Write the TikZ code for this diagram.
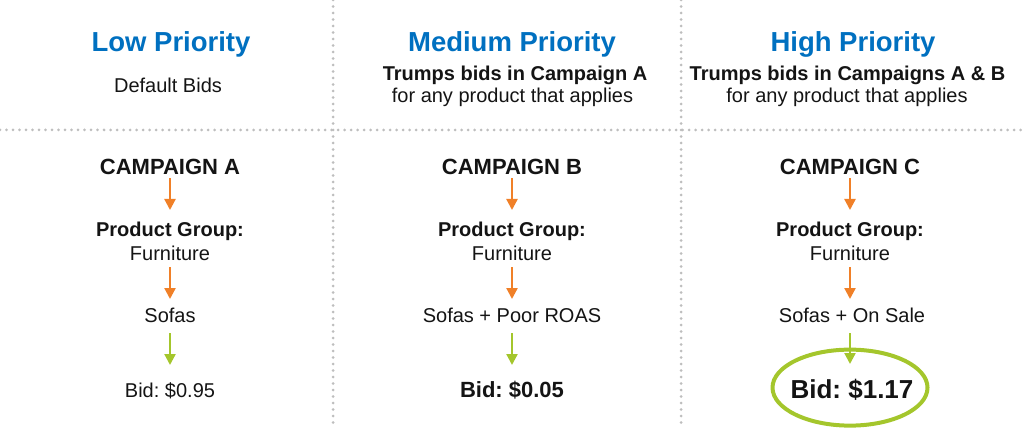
\documentclass[tikz,border=0pt]{standalone}
\usepackage{fontspec}
\setmainfont{Liberation Sans}
\usetikzlibrary{arrows.meta,shapes.geometric}
\definecolor{hblue}{RGB}{0,112,192}
\definecolor{txt}{RGB}{20,20,20}
\definecolor{oarrc}{RGB}{240,128,40}
\definecolor{garrc}{RGB}{164,198,44}
\definecolor{dotgray}{RGB}{190,190,190}
\tikzset{
  dotline/.style={draw=dotgray, line width=3pt, line cap=round, dash pattern=on 0pt off 6.5pt},
  tx/.style={inner sep=0pt, anchor=base, text=txt},
  headt/.style={tx, text=hblue, font=\fontsize{27.5}{33}\selectfont\bfseries},
  subb/.style={tx, font=\fontsize{20}{24}\selectfont\bfseries},
  subr/.style={tx, font=\fontsize{20}{24}\selectfont},
  camp/.style={tx, font=\fontsize{22}{26}\selectfont\bfseries},
  bigbid/.style={tx, font=\fontsize{26}{30}\selectfont\bfseries},
  oarr/.style={draw=oarrc, line width=2.3pt, -{Triangle[width=11pt,length=11pt]}},
  garr/.style={draw=garrc, line width=2.3pt, -{Triangle[width=11pt,length=11pt]}},
  ring/.style={ellipse, draw=garrc, line width=4pt, minimum width=155pt, minimum height=76pt, inner sep=0pt}
}
\begin{document}
\frenchspacing
\begin{tikzpicture}[x=1pt,y=-1pt]
\useasboundingbox (0,0) rectangle (1024,430);
% dividers
\draw[dotline] (333,0) -- (333,423);
\draw[dotline] (681,0) -- (681,423);
\draw[dotline] (0,130) -- (1024,130);
% headers
\node[headt] (lowp) at (171,52) {Low Priority};
\node[subr] (lowd) at (168,93) {Default Bids};
\node[headt] (medp) at (512,52) {Medium Priority};
\node[subb] (medt) at (515,80.7) {Trumps bids in Campaign A};
\node[subr] (medf) at (512.5,103) {for any product that applies};
\node[headt] (higp) at (853,52) {High Priority};
\node[subb] (higt) at (847.5,80.7) {Trumps bids in Campaigns A \& B};
\node[subr] (higf) at (847,103) {for any product that applies};
% column 1
\node[camp] (ca) at (170,174.3) {CAMPAIGN A};
\node[subb] (pga) at (170,236.7) {Product Group:};
\node[subr] (fura) at (170,260.7) {Furniture};
\node[subr] (sofa) at (170,322.7) {Sofas};
\node[subr] (bida) at (170,397.3) {Bid: \$0.95};
% column 2
\node[camp] (cb) at (512,174.3) {CAMPAIGN B};
\node[subb] (pgb) at (512,236.7) {Product Group:};
\node[subr] (furb) at (512,260.7) {Furniture};
\node[subr] (sofb) at (512,322.7) {Sofas + Poor ROAS};
\node[camp] (bidb) at (512,397.3) {Bid: \$0.05};
% column 3
\node[camp] (cc) at (850,174.3) {CAMPAIGN C};
\node[subb] (pgc) at (850,236.7) {Product Group:};
\node[subr] (furc) at (850,260.7) {Furniture};
\node[subr] (sofc) at (852,322.7) {Sofas + On Sale};
\node[bigbid] (bidc) at (852,398.3) {Bid: \$1.17};
\node[ring] (ringc) at ([xshift=-2pt,yshift=2pt]bidc.center) {};
% arrows
\foreach \c/\p/\f/\s/\b in {ca/pga/fura/sofa/bida, cb/pgb/furb/sofb/bidb}{
  \draw[oarr] ([yshift=-4pt]\c.base) -- ([yshift=26.7pt]\p.base);
  \draw[oarr] ([yshift=-6.3pt]\f.base) -- ([yshift=23.7pt]\s.base);
  \draw[garr] ([yshift=-10.3pt]\s.base) -- ([yshift=32.3pt]\b.base);
}
\draw[oarr] ([yshift=-4pt]cc.base) -- ([yshift=26.7pt]pgc.base);
\draw[oarr] ([yshift=-6.3pt]furc.base) -- ([yshift=23.7pt]furc.base |- sofc.base);
\draw[garr] ([yshift=-10.3pt]furc.base |- sofc.base) -- (ringc.north |- 0,364);
\end{tikzpicture}
\end{document}
